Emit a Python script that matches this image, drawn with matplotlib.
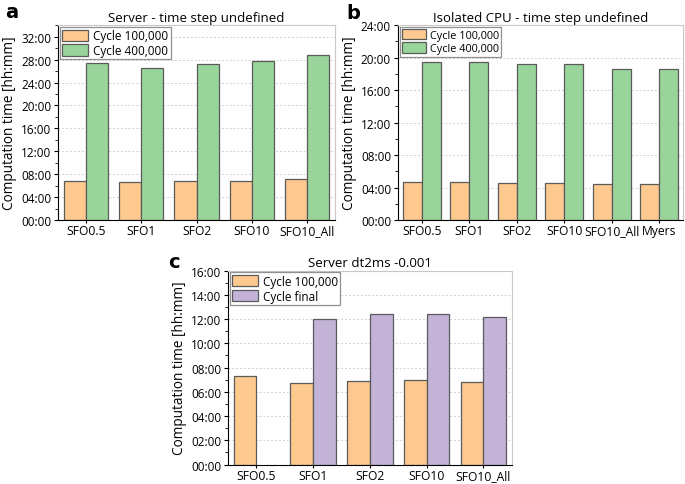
import numpy as np
import matplotlib
matplotlib.use('Agg')
import matplotlib.pyplot as plt
from matplotlib.ticker import FuncFormatter, MultipleLocator

plt.rcParams['font.family'] = ['Open Sans', 'DejaVu Sans']

# data (computation time in hours)
catsA = ['SFO0.5', 'SFO1', 'SFO2', 'SFO10', 'SFO10_All']
a100k = [6.77, 6.6, 6.77, 6.88, 7.1]
a400k = [27.48, 26.6, 27.24, 27.83, 28.87]

catsB = ['SFO0.5', 'SFO1', 'SFO2', 'SFO10', 'SFO10_All', 'Myers']
b100k = [4.64, 4.68, 4.6, 4.6, 4.5, 4.5]
b400k = [19.5, 19.52, 19.2, 19.2, 18.6, 18.6]

catsC = ['SFO0.5', 'SFO1', 'SFO2', 'SFO10', 'SFO10_All']
c100k = [7.3, 6.72, 6.91, 7.0, 6.8]
cFinal = [np.nan, 12.03, 12.38, 12.46, 12.17]

orange = '#fdc98f'
green = '#99d59a'
purple = '#c3b3d7'
edge = '#5a5a5a'


def hhmm(v, pos):
    h = int(round(v * 60)) // 60
    m = int(round(v * 60)) % 60
    return f'{h:02d}:{m:02d}'


def draw(ax, cats, s1, s2, c2, lab2, title, ymax, step, legfs):
    x = np.arange(len(cats))
    w = 0.4
    ax.bar(x - w / 2, s1, w, color=orange, edgecolor=edge, linewidth=0.9, label='Cycle 100,000')
    ax.bar(x + w / 2, s2, w, color=c2, edgecolor=edge, linewidth=0.9, label=lab2)
    ax.set_xticks(x)
    ax.set_xticklabels(cats, fontsize=8.7)
    ax.set_xlim(-0.5, len(cats) - 0.5)
    ax.set_ylim(0, ymax)
    ax.yaxis.set_major_locator(MultipleLocator(step))
    ax.yaxis.set_minor_locator(MultipleLocator(step / 2))
    ax.yaxis.set_major_formatter(FuncFormatter(hhmm))
    ax.tick_params(axis='y', labelsize=8.5, direction='out', length=3, pad=2)
    ax.tick_params(axis='y', which='minor', length=2)
    ax.tick_params(axis='x', direction='out', length=2.5, pad=0.5)
    ax.set_ylabel('Computation time [hh:mm]', fontsize=9.8, labelpad=3)
    ax.set_title(title, fontsize=9.5, pad=3)
    ax.grid(True, axis='y', linestyle=(0, (2, 2)), color='#d0d0d0', linewidth=0.7)
    ax.set_axisbelow(True)
    for s in ['top', 'right']:
        ax.spines[s].set_color('#c8c8c8')
    for s in ['left', 'bottom']:
        ax.spines[s].set_color('black')
    leg = ax.legend(loc='upper left', fontsize=legfs, handlelength=2.2, handleheight=1.1,
                    borderaxespad=0.15, borderpad=0.2, labelspacing=0.15, handletextpad=0.4,
                    fancybox=False, framealpha=1)
    leg.get_frame().set_edgecolor('#909090')
    leg.get_frame().set_linewidth(0.9)


fig = plt.figure(figsize=(6.85, 4.85), dpi=100)

ax1 = fig.add_axes([0.085, 0.544, 0.404, 0.402])
draw(ax1, catsA, a100k, a400k, green, 'Cycle 400,000', 'Server - time step undefined', 34, 4, 8.5)

ax2 = fig.add_axes([0.581, 0.544, 0.416, 0.402])
draw(ax2, catsB, b100k, b400k, green, 'Cycle 400,000', 'Isolated CPU - time step undefined', 24, 4, 7.8)

ax3 = fig.add_axes([0.333, 0.040, 0.414, 0.400])
draw(ax3, catsC, c100k, cFinal, purple, 'Cycle final', 'Server dt2ms -0.001', 16, 2, 8.5)

fig.text(0.007, 0.975, 'a', fontsize=14, fontweight='bold', family='DejaVu Sans', va='center')
fig.text(0.505, 0.972, 'b', fontsize=14, fontweight='bold', family='DejaVu Sans', va='center')
fig.text(0.246, 0.458, 'c', fontsize=14, fontweight='bold', family='DejaVu Sans', va='center')

fig.savefig('out.png', dpi=100)
